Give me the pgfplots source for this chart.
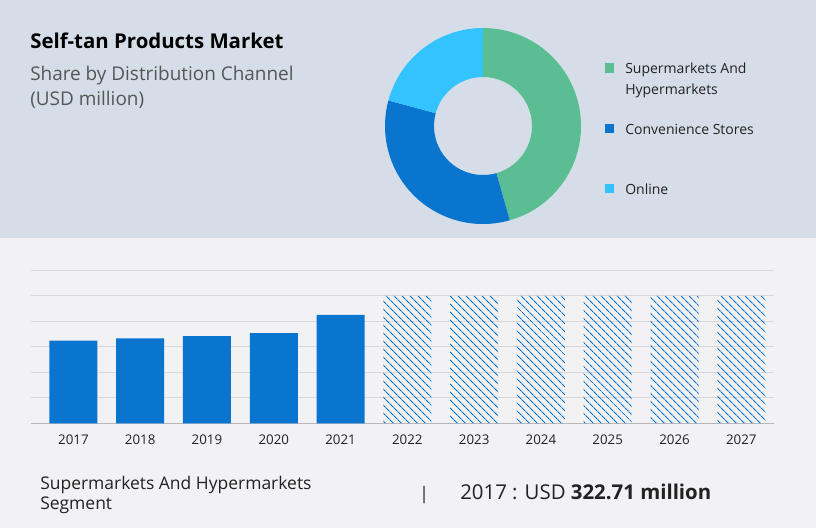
\documentclass[border=0pt]{standalone}
\usepackage{fontspec}
\setmainfont{Open Sans}
\usepackage{pgfplots}
\pgfplotsset{compat=1.18}
\usetikzlibrary{patterns.meta}
\definecolor{topbg}{HTML}{D5DEE8}
\definecolor{botbg}{HTML}{F2F2F5}
\definecolor{segA}{HTML}{5BBE92}
\definecolor{segB}{HTML}{0A75CF}
\definecolor{segC}{HTML}{33C3FF}
\definecolor{barblue}{HTML}{0A75CF}
\definecolor{gridgray}{HTML}{D8D8DC}
\definecolor{axgray}{HTML}{B8B8BC}
\definecolor{txt}{HTML}{222222}
\definecolor{subtxt}{HTML}{555555}

\begin{document}
\begin{tikzpicture}[x=0.75pt, y=0.75pt]
% panels (pixel coordinates, y downward as negative)
\fill[botbg] (0,0) rectangle (816,-528);
\fill[topbg] (0,0) rectangle (816,-238);

% title block
\node[anchor=base west, inner sep=0pt, font=\bfseries\fontsize{15.3}{18}\selectfont, text=black] at (30,-49) {Self-tan Products Market};
\node[anchor=base west, inner sep=0pt, font=\fontsize{14.2}{17}\selectfont, text=subtxt] at (30,-80) {Share by Distribution Channel};
\node[anchor=base west, inner sep=0pt, font=\fontsize{14.2}{17}\selectfont, text=subtxt] at (30,-105) {(USD million)};

% donut: shares in percent, clockwise from the top
\foreach \s/\col [remember=\e as \b (initially 90)] in {45.6/segA, 33.6/segB, 20.8/segC}{
  \pgfmathsetmacro\e{\b-\s*3.6}
  \fill[\col] (483,-126) ++(\b:98) arc[start angle=\b, end angle=\e, radius=98]
     -- ++(\e:-49) arc[start angle=\e, end angle=\b, radius=49] -- cycle;
}

% legend
\foreach \yy/\col in {68/segA, 128/segB, 188/segC}
  \fill[\col] (604.5,-\yy+4.5) rectangle ++(9,-9);
\begin{scope}[every node/.style={anchor=base west, inner sep=0pt, font=\fontsize{10.5}{13}\selectfont, text=txt}]
\node at (625,-74) {Supermarkets And};
\node at (625,-94) {Hypermarkets};
\node at (625,-134) {Convenience Stores};
\node at (625,-194) {Online};
\end{scope}

% bar chart
\begin{axis}[
    at={(23.0pt,-317.5pt)}, anchor=south west,
    scale only axis, width=557.5pt, height=114.75pt,
    xmin=-0.64, xmax=10.49, ymin=0, ymax=600,
    axis x line*=bottom, axis y line*=left,
    x axis line style={axgray, line width=1.2pt},
    y axis line style={draw=none},
    ytick={100,200,...,600}, yticklabels={},
    ymajorgrids, grid style={gridgray, line width=0.9pt},
    xtick={0,...,10},
    xticklabels={2017,2018,2019,2020,2021,2022,2023,2024,2025,2026,2027},
    major tick length=0pt,
    xticklabel style={font=\fontsize{10}{12}\selectfont, text=txt, yshift=-5pt},
    /pgf/number format/assume math mode=true,
    clip=false,
]
\addplot[ybar, bar shift=0pt, bar width=36pt, fill=barblue, draw=none]
    coordinates {(0,324) (1,333) (2,342) (3,354) (4,425)};
\addplot[ybar, bar shift=0pt, bar width=36pt, draw=none,
    pattern={Lines[angle=-45, distance=4pt, line width=0.8pt]}, pattern color=barblue]
    coordinates {(5,500) (6,500) (7,500) (8,500) (9,500) (10,500)};
\end{axis}

% footer
\begin{scope}[every node/.style={anchor=base west, inner sep=0pt, text=txt}]
\node[font=\fontsize{13.1}{15}\selectfont] at (40,-489) {Supermarkets And Hypermarkets};
\node[font=\fontsize{13.1}{15}\selectfont] at (40,-509) {Segment};
\node[font=\fontsize{13}{15}\selectfont] at (419,-499) {|};
\node[font=\fontsize{15.3}{18}\selectfont] at (460,-499) {2017 : USD \textbf{322.71 million}};
\end{scope}
\end{tikzpicture}
\end{document}
